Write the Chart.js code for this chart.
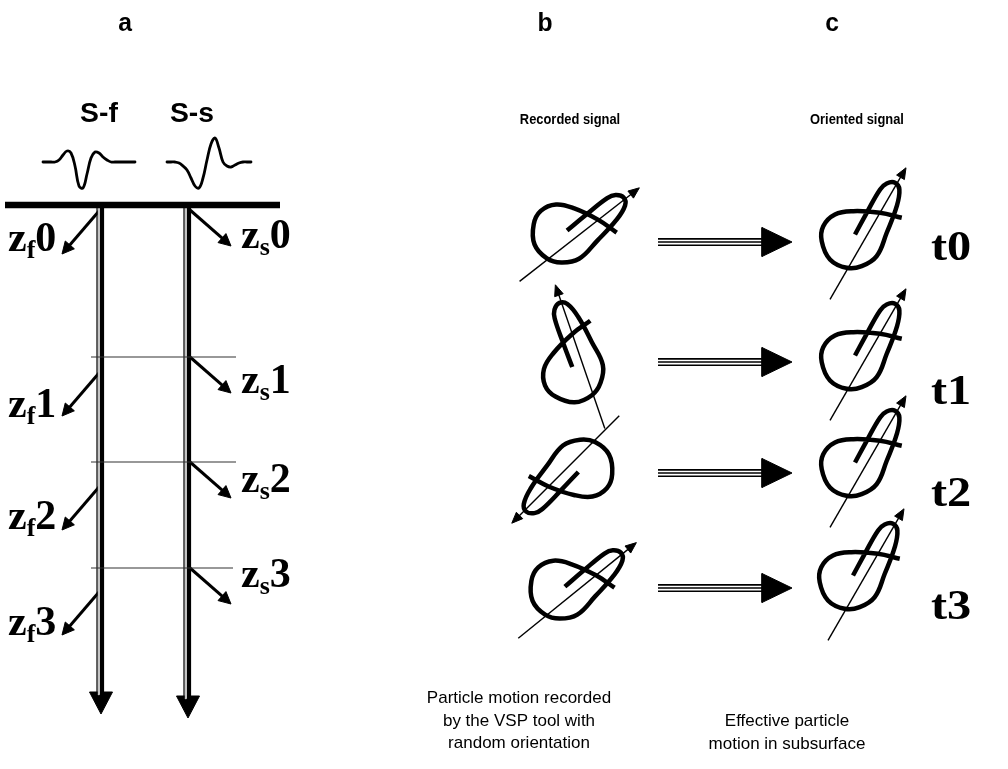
<!DOCTYPE html>
<html>
<head>
<meta charset="utf-8">
<script src="https://cdn.jsdelivr.net/npm/chart.js@4/dist/chart.umd.min.js"></script>
<style>
  html, body { margin: 0; background: #fff; }
  canvas { display: block; }
</style>
</head>
<body>
<canvas id="vspScheme" width="1008" height="769"></canvas>
<script>
// ---- data ----
const panelLetters = ['a', 'b', 'c'];
const waveNames = ['S-f', 'S-s'];
const columnTitles = ['Recorded signal', 'Oriented signal'];
const depthIndex = ['0', '1', '2', '3'];
const timeLabels = ['t0', 't1', 't2', 't3'];

// direction of the polarisation axis, degrees counter-clockwise from east
const recordedAzimuth = [38, 109, 225, 39];
const orientedAzimuth = [60, 60, 60, 60];

// wavelet amplitudes, evenly sampled (positive = up)
const waveSf = [0, 0, 0, 0, 2, 7, 11, 9, -4, -24, -26, -12, 4, 10, 9, 5, 2, 0, 0, 0, 0, 0, 0, 0];
const waveSs = [0, 0, 0, -1, -4, -8, -16, -24, -26, -16, 2, 18, 24, 14, 0, -4, -5, -3, -1, 0, 0, 0];

// particle-motion loop traced in its own frame: along the axis / across it
const loopAlong  = [4.7, 29.4, 56.3, 64.8, 69.6, 65.9, 50.1, 22.1, -3.2, -19.4, -28.3, -29.4, -17.7, -3.9, 12.1, 24.1, 36, 42.6];
const loopAcross = [-10.8, -11.5, -11.6, -8.9, -2, 5.1, 11.2, 15.8, 18.8, 10.8, -1.4, -20, -36.3, -42.5, -38.2, -23.9, 0, 21.3];

const captionRecorded = ['Particle motion recorded', 'by the VSP tool with', 'random orientation'];
const captionOriented = ['Effective particle', 'motion in subsurface'];

// ---- layout ----
const W = 1008, H = 769;
const boreX = [101, 188];
const layerY = [357, 462, 568];
const fastStartY = [211, 373, 487, 592];
const slowStartY = [210, 357, 462, 568];
const recordedCentre = [[570, 242], [584, 368], [574, 461], [568, 598]];
const orientedCentre = [[862, 244], [862, 365], [862, 472], [860, 585]];
const bigArrowY = [242, 362, 473, 588];

const datasets = [];

function path(xs, ys, width, color, extra) {
  datasets.push(Object.assign({
    data: xs.map((x, i) => ({ x: x, y: ys[i] })),
    showLine: true,
    borderColor: color,
    borderWidth: width,
    pointRadius: 0,
    fill: false,
    tension: 0,
    borderCapStyle: 'butt',
    borderJoinStyle: 'round',
    clip: false
  }, extra || {}));
}

function tri(ax, ay, bx, by, cx, cy, color) {
  path([ax, bx, cx, ax], [ay, by, cy, ay], 1, color,
    { fill: 'shape', backgroundColor: color, borderJoinStyle: 'miter' });
}

function arrow(x0, y0, x1, y1, width, headLen, headHalf, color) {
  const len = Math.hypot(x1 - x0, y1 - y0);
  const ux = (x1 - x0) / len, uy = (y1 - y0) / len;
  const bx = x1 - ux * headLen, by = y1 - uy * headLen;
  path([x0, bx + ux], [y0, by + uy], width, color);
  tri(x1, y1, bx - uy * headHalf, by + ux * headHalf, bx + uy * headHalf, by - ux * headHalf, color);
}

function wavelet(amps, x0, step, base) {
  path(amps.map((a, i) => x0 + i * step), amps.map(a => base - a), 2.8, '#000',
    { tension: 0.4, borderCapStyle: 'round' });
}

function motionLoop(cx, cy, deg) {
  const r = deg * Math.PI / 180;
  const dx = Math.cos(r), dy = -Math.sin(r);
  const nx = -dy, ny = dx;
  const xs = loopAlong.map((u, i) => cx + u * dx + loopAcross[i] * nx);
  const ys = loopAlong.map((u, i) => cy + u * dy + loopAcross[i] * ny);
  path(xs, ys, 4.5, '#000', { tension: 0.4 });
  arrow(cx - 64 * dx, cy - 64 * dy, cx + 88 * dx, cy + 88 * dy, 1.4, 11, 4.5, '#000');
}

// panel a: surface, wavelets, boreholes
wavelet(waveSf, 43, 4, 162);
wavelet(waveSs, 167, 4, 162);
path([5, 280], [205, 205], 6.5, '#000');
layerY.forEach((y, i) => path([91, 236 - (i === 2 ? 3 : 0)], [y, y], 1.2, '#333'));
boreX.forEach((x, i) => {
  const tipY = i === 0 ? 714 : 718;
  path([x - 4, x - 4], [208, tipY - 20], 1.2, '#000');
  path([x - 2.2, x - 2.2], [208, tipY - 20], 2.4, '#c4c4c4');
  path([x + 1, x + 1], [208, tipY - 20], 4.2, '#000');
  tri(x, tipY, x - 11.5, tipY - 22, x + 11.5, tipY - 22, '#000');
});
fastStartY.forEach(y => arrow(boreX[0] - 2, y, 62, y + 43, 3, 12, 6, '#000'));
slowStartY.forEach(y => arrow(boreX[1] + 2, y, 231, y + 36, 3, 12, 6, '#000'));

// panels b and c
recordedCentre.forEach((c, i) => motionLoop(c[0], c[1], recordedAzimuth[i]));
orientedCentre.forEach((c, i) => motionLoop(c[0], c[1], orientedAzimuth[i]));
bigArrowY.forEach(y => {
  [-3.1, 0, 3.2].forEach(o => path([658, 764], [y + o, y + o], 1.6, '#000'));
  tri(792, y, 762, y - 14.5, 762, y + 14.5, '#000');
});

// ---- text ----
function say(ctx, str, x, y, font, align, stretch) {
  ctx.save();
  ctx.font = font;
  ctx.textAlign = align;
  ctx.textBaseline = 'alphabetic';
  ctx.fillStyle = '#000';
  ctx.translate(x, y);
  ctx.scale(stretch, 1);
  ctx.fillText(str, 0, 0);
  ctx.restore();
}

function depthLabel(ctx, sub, digit, x, y) {
  const big = 'bold 42px "Liberation Serif", "Times New Roman", serif';
  const small = 'bold 26px "Liberation Serif", "Times New Roman", serif';
  ctx.save();
  ctx.fillStyle = '#000';
  ctx.textBaseline = 'alphabetic';
  ctx.textAlign = 'left';
  ctx.translate(x, y);
  ctx.font = big;
  ctx.fillText('z', 0, 0);
  let w = ctx.measureText('z').width;
  ctx.font = small;
  ctx.fillText(sub, w, 7);
  w += ctx.measureText(sub).width;
  ctx.font = big;
  ctx.fillText(digit, w, 0);
  ctx.restore();
}

const labelPlugin = {
  id: 'schemeLabels',
  afterDatasetsDraw(chart) {
    const ctx = chart.ctx;
    const px = v => chart.scales.x.getPixelForValue(v);
    const py = v => chart.scales.y.getPixelForValue(v);
    const sans = '"Liberation Sans", Arial, sans-serif';

    [125, 545, 832].forEach((x, i) => say(ctx, panelLetters[i], px(x), py(31), 'bold 26px ' + sans, 'center', 0.95));
    [99, 192].forEach((x, i) => say(ctx, waveNames[i], px(x), py(122), 'bold 27px ' + sans, 'center', 1.05));
    [570, 857].forEach((x, i) => say(ctx, columnTitles[i], px(x), py(124), 'bold 15px ' + sans, 'center', 0.86));

    const fastBase = [251, 417, 529, 635];
    const slowBase = [248, 393, 492, 587];
    depthIndex.forEach((d, i) => {
      depthLabel(ctx, 'f', d, px(8), py(fastBase[i]));
      depthLabel(ctx, 's', d, px(241), py(slowBase[i]));
    });

    const tBase = [260, 404, 506, 619];
    timeLabels.forEach((t, i) => say(ctx, t, px(951), py(tBase[i]),
      'bold 42px "Liberation Serif", "Times New Roman", serif', 'center', 1.15));

    captionRecorded.forEach((s, i) => say(ctx, s, px(519), py(703 + i * 22.5), '17px ' + sans, 'center', 1));
    captionOriented.forEach((s, i) => say(ctx, s, px(787), py(726 + i * 22.5), '17px ' + sans, 'center', 1));
  }
};

new Chart(document.getElementById('vspScheme').getContext('2d'), {
  type: 'scatter',
  data: { datasets: datasets },
  options: {
    responsive: false,
    devicePixelRatio: 1,
    animation: false,
    events: [],
    layout: { padding: 0 },
    scales: {
      x: { type: 'linear', min: 0, max: W, display: false },
      y: { type: 'linear', min: 0, max: H, reverse: true, display: false }
    },
    plugins: {
      legend: { display: false },
      tooltip: { enabled: false }
    }
  },
  plugins: [labelPlugin]
});
</script>
</body>
</html>
